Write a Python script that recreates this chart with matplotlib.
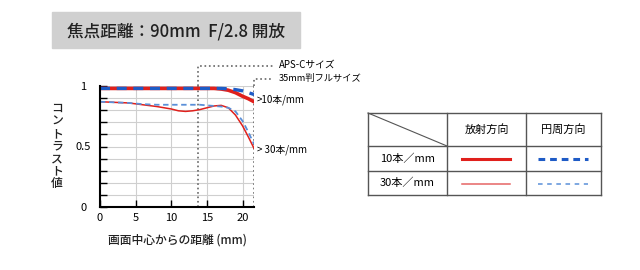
import matplotlib
matplotlib.use("Agg")
from matplotlib import pyplot as plt
from matplotlib.patches import Rectangle

plt.rcParams['font.family'] = ['Noto Sans CJK JP', 'DejaVu Sans']

# 画面中心からの距離 (mm)
x = [0, 2, 4, 6, 8, 10, 12, 14, 15, 16, 17, 18, 19, 20, 20.8, 21.6]
r10 = [0.98, 0.98, 0.98, 0.98, 0.98, 0.98, 0.98, 0.98, 0.98, 0.98, 0.975, 0.965, 0.945, 0.915, 0.895, 0.87]
t10 = [0.98, 0.98, 0.98, 0.98, 0.98, 0.98, 0.98, 0.98, 0.98, 0.98, 0.98, 0.977, 0.97, 0.96, 0.945, 0.93]
x30 = [0, 2, 4, 6, 8, 10, 11, 12, 13, 14, 15, 16, 17, 18, 19, 20, 20.8, 21.6]
r30 = [0.87, 0.865, 0.86, 0.845, 0.83, 0.81, 0.795, 0.79, 0.795, 0.805, 0.82, 0.835, 0.84, 0.82, 0.76, 0.67, 0.58, 0.485]
t30 = [0.87, 0.865, 0.86, 0.85, 0.845, 0.845, 0.845, 0.845, 0.845, 0.845, 0.84, 0.835, 0.83, 0.82, 0.79, 0.71, 0.62, 0.52]

aps_c = 13.8
full = 21.6

title = '焦点距離：90mm  F/2.8 開放'
col_labels = ['放射方向', '円周方向']
row_labels = ['10本／mm', '30本／mm']

red = '#e0201c'
blue = '#1e5bc6'
red_l = '#e66464'
blue_l = '#5a8fd8'

fig = plt.figure(figsize=(6.4, 2.7), dpi=100)

# 背景用 (ピクセル座標)
bg = fig.add_axes([0, 0, 1, 1])
bg.set_xlim(0, 640)
bg.set_ylim(270, 0)
bg.axis('off')

bg.add_patch(Rectangle((52, 12), 248, 36, color='#d0d0d0', zorder=0))
bg.text(176, 31, title, fontsize=12, fontweight='medium', ha='center', va='center', color='#222222')

# グラフ
ax = fig.add_axes([100/640, (270-207)/270, (254-100)/640, (207-86)/270])
ax.set_xlim(0, full)
ax.set_ylim(0, 1.0)
ax.set_yticks([i/10 for i in range(11)])
ax.set_yticklabels(['0', '', '', '', '', '0.5', '', '', '', '', '1'])
ax.set_xticks([0, 5, 10, 15, 20])
ax.tick_params(direction='in', length=5, width=1, labelsize=8, colors='black', pad=4)
ax.tick_params(axis='y', pad=12)
for lb in ax.get_yticklabels():
    lb.set_ha('center')
ax.grid(True, color='#cfcfcf', linewidth=0.8)
for s in ['top', 'right']:
    ax.spines[s].set_visible(False)
ax.spines['left'].set_linewidth(1.5)
ax.spines['bottom'].set_linewidth(1.5)

ax.axvline(aps_c, color='#666666', linestyle=':', linewidth=1.2)
ax.axvline(full, color='#666666', linestyle=':', linewidth=1.2)

ax.plot(x30, r30, color=red, linewidth=1.1)
ax.plot(x30, t30, color=blue_l, linestyle=(0, (3, 2)), linewidth=1.3)
ax.plot(x, r10, color=red, linewidth=2.6)
ax.plot(x, t10, color=blue, linestyle=(0, (3, 2)), linewidth=2.4)

ax.set_xlabel('画面中心からの距離 (mm)', fontsize=8.5, fontweight='medium', labelpad=8, color='#222222')
bg.text(57, 146, '\n'.join('コントラスト値'), fontsize=8.5, fontweight='medium',
        ha='center', va='center', linespacing=0.95, color='#222222')

# サイズ注記の引き出し線
bg.plot([198, 198, 273], [86, 66, 66], color='#666666', linestyle=':', linewidth=1.2)
bg.text(279, 65, 'APS-Cサイズ', fontsize=7, va='center')
bg.plot([254, 254, 273], [86, 79, 79], color='#666666', linestyle=':', linewidth=1.2)
bg.text(279, 79, '35mm判フルサイズ', fontsize=6.7, va='center')
bg.text(257, 100, '>10本/mm', fontsize=7, va='center')
bg.text(257, 150, '> 30本/mm', fontsize=7, va='center')

# 凡例の表
xs = [368, 447, 526, 601]
ys = [113, 146, 171, 195]
for xv in xs:
    bg.plot([xv, xv], [ys[0], ys[-1]], color='#555555', linewidth=1)
for yv in ys:
    bg.plot([xs[0], xs[-1]], [yv, yv], color='#555555', linewidth=1)
bg.plot([xs[0], xs[1]], [ys[0], ys[1]], color='#555555', linewidth=0.8)
for i, c in enumerate(col_labels):
    bg.text((xs[i+1] + xs[i+2]) / 2, (ys[0] + ys[1]) / 2, c, fontsize=8, ha='center', va='center')
for j, r in enumerate(row_labels):
    bg.text((xs[0] + xs[1]) / 2, (ys[j+1] + ys[j+2]) / 2, r, fontsize=8, ha='center', va='center')
bg.plot([462, 510], [158.5, 158.5], color=red, linewidth=2.2)
bg.plot([538, 588], [158.5, 158.5], color=blue, linewidth=2.2, linestyle=(0, (2.2, 1.6)))
bg.plot([462, 510], [183.5, 183.5], color=red_l, linewidth=1.1)
bg.plot([538, 588], [183.5, 183.5], color=blue_l, linewidth=1.1, linestyle=(0, (3, 3)))

fig.savefig('out.png', dpi=100)
